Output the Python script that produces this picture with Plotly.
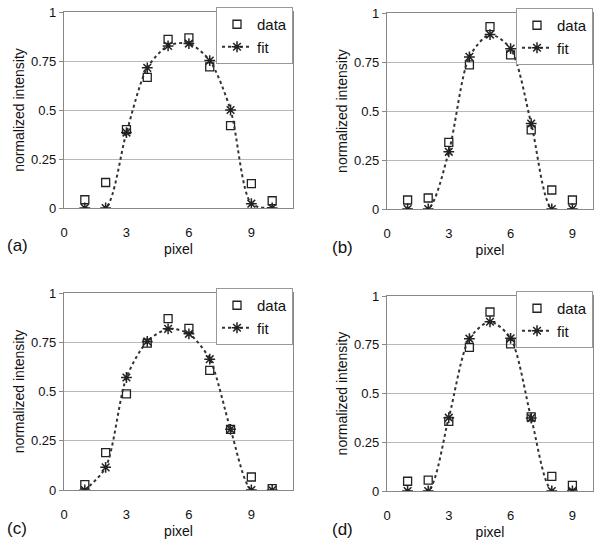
import plotly.graph_objects as go

# pixel positions 1..10 for (a), (c) and 1..9 for (b), (d)
px_a = [1, 2, 3, 4, 5, 6, 7, 8, 9, 10]
data_a = [0.042, 0.13, 0.40, 0.666, 0.86, 0.868, 0.72, 0.42, 0.124, 0.037]
fit_a = [0.0, 0.0, 0.385, 0.715, 0.827, 0.839, 0.752, 0.50, 0.022, 0.0]

px_b = [1, 2, 3, 4, 5, 6, 7, 8, 9]
data_b = [0.046, 0.056, 0.34, 0.735, 0.93, 0.786, 0.404, 0.097, 0.046]
fit_b = [0.0, 0.0, 0.292, 0.776, 0.89, 0.818, 0.436, 0.0, 0.0]

px_c = [1, 2, 3, 4, 5, 6, 7, 8, 9, 10]
data_c = [0.027, 0.19, 0.488, 0.746, 0.87, 0.82, 0.607, 0.308, 0.066, 0.007]
fit_c = [0.0, 0.115, 0.571, 0.754, 0.818, 0.793, 0.664, 0.308, 0.0, 0.0]

px_d = [1, 2, 3, 4, 5, 6, 7, 8, 9]
data_d = [0.05, 0.056, 0.357, 0.737, 0.918, 0.754, 0.38, 0.075, 0.029]
fit_d = [0.0, 0.0, 0.376, 0.781, 0.868, 0.783, 0.374, 0.0, 0.0]

panel_labels = ["(a)", "(b)", "(c)", "(d)"]
x_ticks = [0, 3, 6, 9]
y_ticks = [0, 0.25, 0.5, 0.75, 1]

W, H = 600, 548
FONT = "Liberation Sans, Arial, sans-serif"
INK = "#111"

# plot boxes in pixels: left, right, top, bottom, x max
boxes = [
    (64, 293, 12, 208, 11),
    (387, 593, 13, 209, 10),
    (64, 293, 293, 490, 11),
    (387, 593, 296, 491, 10),
]
panels = [(px_a, data_a, fit_a), (px_b, data_b, fit_b),
          (px_c, data_c, fit_c), (px_d, data_d, fit_d)]

fig = go.Figure()
layout = {}
annotations = []

for i, ((xs, d, f), (l, r, t, b, xmax)) in enumerate(zip(panels, boxes)):
    n = "" if i == 0 else str(i + 1)
    leg = "legend" + n
    fig.add_trace(go.Scatter(
        x=xs, y=d, mode="markers", name="data",
        marker=dict(symbol="square-open", size=8, color="#222",
                    line=dict(width=1.3, color="#222")),
        xaxis="x" + n, yaxis="y" + n, legend=leg))
    fig.add_trace(go.Scatter(
        x=xs, y=f, mode="lines+markers", name="fit",
        line=dict(color="#333", width=2, dash="dot", shape="spline", smoothing=0.8),
        marker=dict(symbol="asterisk-open", size=9, color="#222",
                    line=dict(width=1.5, color="#222")),
        xaxis="x" + n, yaxis="y" + n, legend=leg))

    layout["xaxis" + n] = dict(
        domain=[l / W, r / W], range=[0, xmax], anchor="y" + n, automargin=False,
        tickvals=x_ticks, ticks="outside", ticklen=12, tickcolor="rgba(0,0,0,0)",
        showgrid=False, zeroline=False, showline=True, mirror=True,
        linecolor="#888", linewidth=1.3,
        tickfont=dict(family=FONT, size=13, color=INK),
        title=dict(text="pixel", font=dict(family=FONT, size=14, color=INK),
                   standoff=5))
    layout["yaxis" + n] = dict(
        domain=[1 - b / H, 1 - t / H], range=[0, 1], anchor="x" + n, automargin=False,
        tickvals=y_ticks, ticktext=["0", "0.25", "0.5", "0.75", "1"],
        ticks="outside", ticklen=4, tickcolor="#888",
        showgrid=True, gridcolor="#b8b8b8", gridwidth=1,
        zeroline=False, showline=True, mirror=True,
        linecolor="#888", linewidth=1.3,
        tickfont=dict(family=FONT, size=13, color=INK),
        title=dict(text="normalized intensity",
                   font=dict(family=FONT, size=14, color=INK), standoff=3))
    layout[leg] = dict(
        x=r / W, y=1 - (t - 5) / H, xanchor="right", yanchor="top",
        bgcolor="white", bordercolor="#999", borderwidth=1,
        font=dict(family=FONT, size=15, color=INK),
        itemwidth=30, tracegroupgap=0)
    annotations.append(dict(
        text=panel_labels[i], xref="paper", yref="paper",
        x=(5 if l < 300 else 330) / W, y=1 - (b + 38) / H,
        xanchor="left", yanchor="middle", showarrow=False,
        font=dict(family=FONT, size=17, color=INK)))

fig.update_layout(
    width=W, height=H,
    margin=dict(l=0, r=0, t=0, b=0, autoexpand=False),
    paper_bgcolor="white", plot_bgcolor="white",
    showlegend=True,
    annotations=annotations,
    **layout)

# the page body has a default 8px margin; drop it so the figure fills the window
fig.write_html("out.html", config={"displayModeBar": False},
               post_script="document.body.style.margin='0';")
